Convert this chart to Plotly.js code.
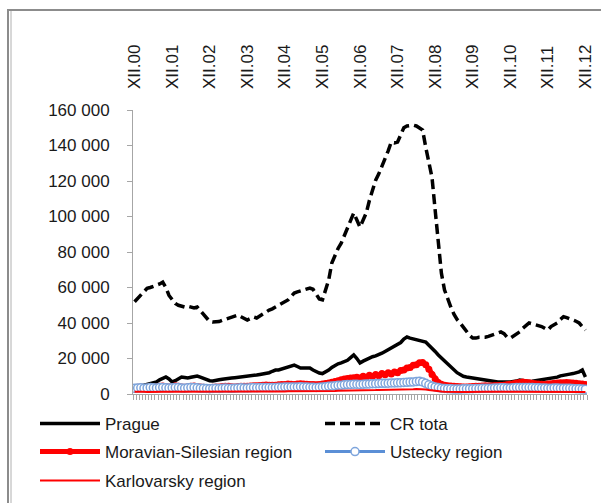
<!DOCTYPE html>
<html><head><meta charset="utf-8">
<script src="https://cdn.plot.ly/plotly-3.0.1.min.js"></script>
<style>html,body{margin:0;padding:0;background:#fff}#chart{width:601px;height:503px}</style>
</head><body><div id="chart"></div>
<script>
// Year tick labels (one per December) and their month index
const yearLabels = ['XII.00','XII.01','XII.02','XII.03','XII.04','XII.05','XII.06','XII.07','XII.08','XII.09','XII.10','XII.11','XII.12'];
const yearLabelIndex = [0,12,24,36,48,60,72,84,96,108,120,132,144];

// Monthly values XII.2000 ... XII.2012
const prague = [
 3500,4000,4500,5000,5500,6000,6500,6800,8000,9000,9600,8500,
 6800,7500,8500,9600,9300,9000,9400,9800,10100,9500,8800,8400,
 7500,7300,7900,8000,8300,8700,9000,9000,9200,9400,9600,9500,
 9800,10100,10400,10700,11000,11300,11300,12000,12800,13500,13500,14000,
 14600,15200,15800,16300,15500,14600,14600,14800,14600,13500,12500,11800,
 11500,12400,13500,15000,16300,17000,17500,18000,19000,20500,22000,20000,
 17500,18500,19500,20300,21000,21500,22000,23000,24000,25000,26000,26500,
 27600,29000,31000,32100,31500,31000,30400,30000,29800,29300,27500,25900,
 24000,22000,20300,18500,16500,15000,13500,12000,11000,10000,9600,9300,
 9000,8600,8300,8000,7900,7600,7300,7000,6800,6800,6600,6700,
 6800,7000,7300,7900,7500,7300,7000,7200,7500,7800,8000,8200,
 8500,8800,9000,9500,10200,10700,11000,11200,11500,11800,12500,13500,
 9600];
const crTotal = [
 52000,54000,56000,57500,59500,60000,60500,61000,62000,63000,60000,55500,
 53000,51000,50000,49500,49000,49500,49000,48500,49000,47000,45000,43000,
 40800,40500,40500,40800,41500,42000,42800,43500,44000,44500,43500,42500,
 41700,42500,43400,42800,44000,45000,46000,47300,48000,49000,50000,51000,
 51800,53000,55000,56900,57500,58000,58500,59000,59700,59000,56000,53500,
 53000,58000,64200,73800,78000,82000,85000,89000,93500,98000,102000,98000,
 94000,98000,102000,109000,115000,120500,124000,128000,132000,137000,142000,141500,
 142000,146000,150000,151000,151500,151500,151000,150000,148700,139000,131000,122000,
 103700,85000,68000,58600,53000,49000,45000,42000,40000,37500,35000,33000,
 31500,31500,32000,32000,32000,32500,33000,33500,34000,35000,34000,32000,
 31500,32500,34000,35000,37000,38500,40000,39500,39000,39000,38000,37000,
 36000,38000,39000,40000,42000,43500,43000,42500,41700,41000,40000,38000,
 36000];
const moravianSilesian = [
 3600,3800,4000,3700,3800,4200,3900,4000,4300,4500,4200,4000,
 4200,4600,4400,4000,3800,4100,4300,4500,4200,4000,3800,3700,
 3600,3800,4000,3900,4200,4400,4300,4100,4000,4200,4400,4300,
 4300,4500,4700,4600,4800,5000,5100,5000,4900,5000,5200,5300,
 5400,5600,5500,5400,5600,5800,5700,5500,5400,5300,5200,5400,
 5600,5900,6200,6600,7000,7500,8000,8400,8800,9000,9200,9400,
 9000,10000,9400,10500,9800,11000,10300,11500,10800,12000,11300,12400,
 12000,13200,13500,14600,15000,16200,16500,17600,17800,16500,14000,11000,
 8500,6500,5500,5000,4700,4500,4300,4200,4100,4000,4000,4100,
 4200,4300,4400,4500,4600,4500,4500,4600,4700,4800,5000,5200,
 5500,5800,6200,6500,6800,6500,6300,6000,5800,5600,5500,5400,
 5600,5800,6000,6200,6300,6400,6500,6400,6200,6000,5800,5600,
 5400];
const ustecky = [
 3200,3400,3500,3300,3400,3600,3500,3400,3600,3700,3500,3400,
 3500,3700,3600,3400,3300,3500,3600,3700,3500,3300,3200,3100,
 3000,3100,3200,3100,3300,3400,3300,3200,3300,3400,3500,3400,
 3400,3500,3600,3500,3600,3700,3700,3600,3600,3700,3800,3800,
 3900,4000,4000,3900,4000,4100,4000,3900,3800,3800,3700,3800,
 3900,4100,4300,4500,4700,4900,5000,5200,5300,5400,5500,5500,
 5400,5500,5600,5700,5800,5800,5900,6000,6000,6100,6200,6200,
 6300,6400,6500,6600,6700,6800,7000,7200,6800,6000,5200,4500,
 4000,3600,3300,3100,3000,2900,2800,2800,2800,2900,2900,3000,
 3000,3100,3100,3200,3200,3300,3300,3400,3400,3500,3500,3400,
 3400,3500,3600,3600,3700,3700,3600,3600,3500,3500,3400,3400,
 3300,3300,3400,3400,3300,3300,3200,3200,3100,3000,2900,2800,
 2700];
const karlovarsky = [
 1200,1300,1300,1200,1100,1200,1300,1300,1400,1400,1300,1200,
 1200,1300,1300,1200,1100,1100,1200,1300,1300,1200,1100,1000,
 1000,1000,1100,1100,1200,1200,1200,1100,1100,1200,1200,1100,
 1100,1200,1200,1300,1300,1300,1200,1200,1300,1300,1400,1400,
 1400,1500,1500,1400,1400,1500,1500,1400,1400,1300,1300,1400,
 1400,1500,1600,1700,1700,1800,1800,1900,1900,2000,2000,2000,
 2000,2000,2100,2100,2200,2200,2300,2300,2300,2400,2400,2400,
 2500,2500,2600,2600,2700,2700,2800,2800,2700,2500,2200,1900,
 1700,1500,1400,1300,1200,1200,1100,1100,1100,1100,1100,1200,
 1200,1200,1200,1300,1300,1300,1300,1300,1300,1400,1400,1300,
 1300,1300,1400,1400,1400,1500,1500,1400,1400,1400,1300,1300,
 1300,1300,1400,1400,1400,1300,1300,1300,1200,1200,1200,1200,
 1100];
const seriesNames = ['Prague','CR tota','Moravian-Silesian region','Ustecky region','Karlovarsky region'];

const monthIdx = prague.map((_, i) => i);

// geometry helpers (pixel -> paper)
const W = 601, H = 503, L = 133, R = 14, T = 110, B = 109;
const pw = W - L - R, ph = H - T - B;
const px2x = p => (p - L) / pw;
const py2y = p => (H - B - p) / ph;

const FONT = '"Liberation Sans", Arial, sans-serif';

const traces = [
  {x: monthIdx, y: prague, name: seriesNames[0], type: 'scatter', mode: 'lines',
   line: {color: '#000000', width: 3.5}, legend: 'legend'},
  {x: monthIdx, y: crTotal, name: seriesNames[1], type: 'scatter', mode: 'lines',
   line: {color: '#000000', width: 3.5, dash: '10px,5px'}, legend: 'legend2'},
  {x: monthIdx, y: moravianSilesian, name: seriesNames[2], type: 'scatter', mode: 'lines+markers',
   line: {color: '#ff0000', width: 5}, marker: {color: '#ff0000', size: 7, symbol: 'circle'}, legend: 'legend3'},
  {x: monthIdx, y: ustecky, name: seriesNames[3], type: 'scatter', mode: 'lines+markers',
   line: {color: '#5b8fd6', width: 3}, marker: {color: '#ffffff', size: 8, symbol: 'circle', line: {color: '#7ea5dc', width: 1.5}}, legend: 'legend4'},
  {x: monthIdx, y: karlovarsky, name: seriesNames[4], type: 'scatter', mode: 'lines',
   line: {color: '#ff0000', width: 2}, legend: 'legend5', xaxis: 'x2'}
];

const legendBase = {orientation: 'h', xanchor: 'left', yanchor: 'middle', bgcolor: 'rgba(0,0,0,0)',
  borderwidth: 0, itemwidth: 60, font: {family: FONT, size: 17, color: '#1a1a1a'}};

const layout = {
  width: W, height: H,
  margin: {l: L, r: R, t: T, b: B, pad: 0, autoexpand: false},
  paper_bgcolor: '#ffffff', plot_bgcolor: '#ffffff',
  separators: ', ',
  font: {family: FONT, size: 17, color: '#1a1a1a'},
  showlegend: true,
  xaxis: {range: [-0.5, 144.5], showgrid: false, zeroline: false, showline: true,
    linecolor: '#a6a6a6', linewidth: 1, ticks: 'outside', ticklen: 5, tickcolor: '#a6a6a6', tickwidth: 1,
    tickmode: 'linear', tick0: -0.5, dtick: 1, showticklabels: false, fixedrange: true},
  xaxis2: {overlaying: 'x', side: 'top', anchor: 'y', range: [-0.5, 144.5],
    tickmode: 'array', tickvals: yearLabelIndex, ticktext: yearLabels, tickangle: -90,
    ticks: '', showline: false, showgrid: false, zeroline: false, ticklabelstandoff: 20,
    tickfont: {family: FONT, size: 17, color: '#1a1a1a'}, fixedrange: true},
  yaxis: {range: [0, 160000], tick0: 0, dtick: 20000, tickformat: ',d', showgrid: false, zeroline: false,
    showline: true, linecolor: '#a6a6a6', linewidth: 1, ticks: 'outside', ticklen: 5, tickcolor: '#a6a6a6',
    ticklabelstandoff: 14, tickfont: {family: FONT, size: 17, color: '#1a1a1a'}, fixedrange: true},
  legend:  Object.assign({}, legendBase, {x: px2x(35),  y: py2y(424)}),
  legend2: Object.assign({}, legendBase, {x: px2x(320), y: py2y(424)}),
  legend3: Object.assign({}, legendBase, {x: px2x(35),  y: py2y(452)}),
  legend4: Object.assign({}, legendBase, {x: px2x(320), y: py2y(452)}),
  legend5: Object.assign({}, legendBase, {x: px2x(35),  y: py2y(481)}),
  shapes: [
    {type: 'line', xref: 'paper', yref: 'paper', x0: px2x(7), x1: px2x(620), y0: py2y(10), y1: py2y(10),
     line: {color: '#8c8c8c', width: 2}},
    {type: 'line', xref: 'paper', yref: 'paper', x0: px2x(8), x1: px2x(8), y0: py2y(10), y1: py2y(520),
     line: {color: '#8c8c8c', width: 2}},
    {type: 'line', xref: 'paper', yref: 'paper', x0: px2x(11), x1: px2x(11), y0: py2y(11), y1: py2y(520),
     line: {color: '#b0b0b0', width: 1}}
  ]
};

Plotly.newPlot('chart', traces, layout, {staticPlot: true, displayModeBar: false});
</script>
</body></html>
